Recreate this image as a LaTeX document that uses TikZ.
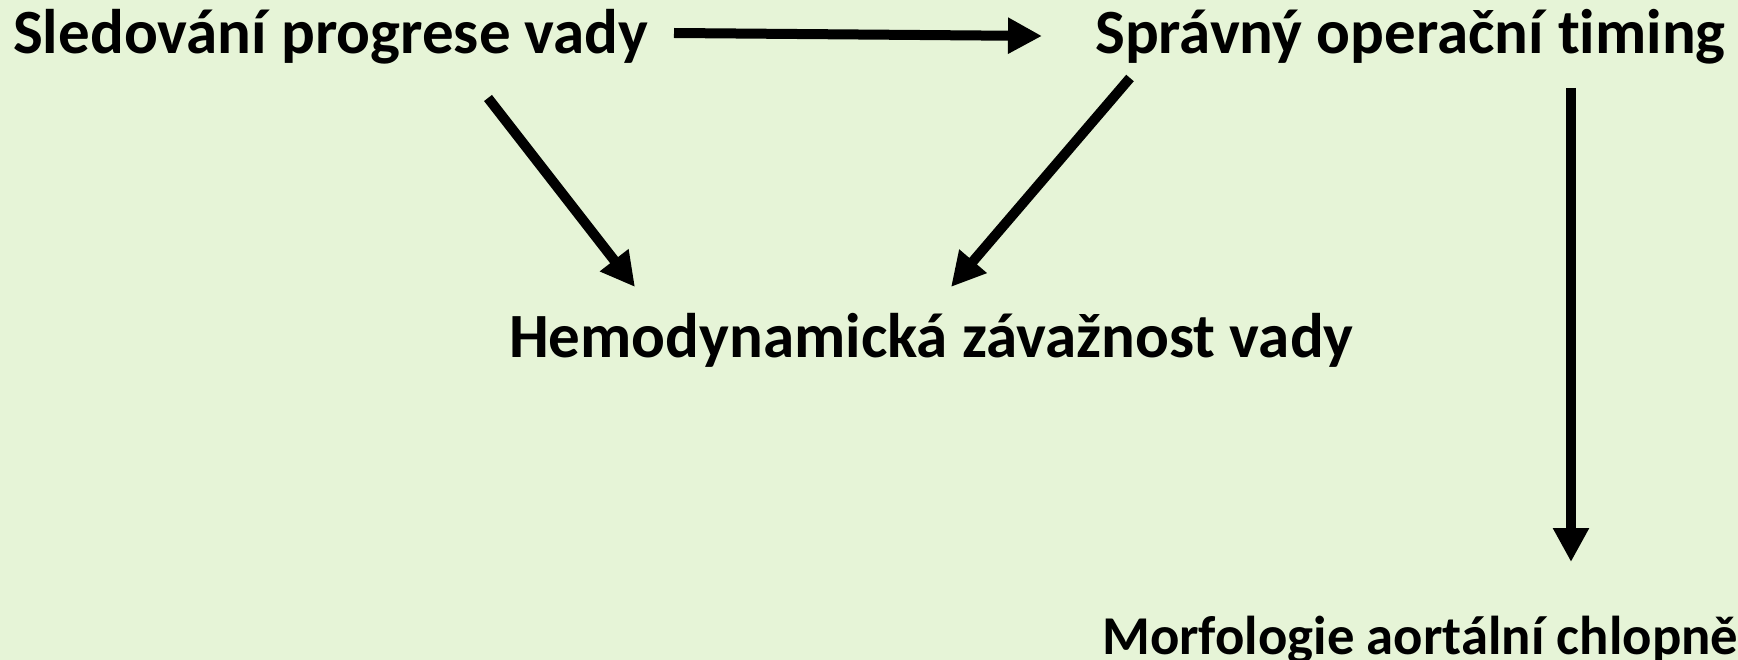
\documentclass[tikz,border=0pt]{standalone}
\usepackage{fontspec}
\setmainfont{Carlito}[Ligatures={NoCommon}]
\usetikzlibrary{arrows.meta}
\definecolor{bg}{RGB}{230,244,215}
\begin{document}
\begin{tikzpicture}[x=1pt,y=-1pt,
  lbl/.style={anchor=base west,inner sep=0pt,font=\fontsize{63}{70}\selectfont\bfseries},
  small/.style={font=\fontsize{54.7}{60}\selectfont\bfseries},
  conn/.style={line width=10pt,-{Triangle[length=34pt,width=34pt]}}]
\fill[bg] (0,0) rectangle (1738,660);
\useasboundingbox (0,0) rectangle (1738,660);
\node[lbl] (sled) at (13,54) {Sledování progrese vady};
\node[lbl] (spr) at (1095,54) {Správný operační timing};
\node[lbl] (hem) at (509,357) {Hemodynamická závažnost vady};
\node[lbl,small] (mor) at (1102,654) {Morfologie aortální chlopně};
\coordinate (a1s) at (674,33);
\coordinate (a1e) at (1042,36);
\coordinate (a2s) at (488,98);
\coordinate (a2e) at (635,287);
\coordinate (a3s) at (1130,78);
\coordinate (a3e) at (951,287);
\coordinate (a4s) at (1571,88);
\coordinate (a4e) at (1571,562);
\draw[conn] (a1s) -- (a1e);
\draw[conn] (a2s) -- (a2e);
\draw[conn] (a3s) -- (a3e);
\draw[conn] (a4s) -- (a4e);
\end{tikzpicture}
\end{document}
